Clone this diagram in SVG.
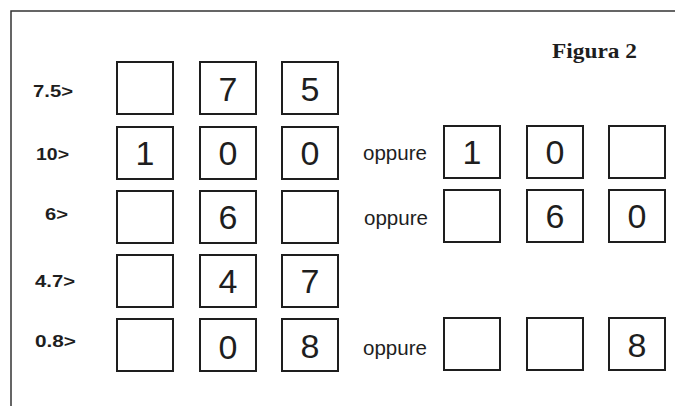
<svg xmlns="http://www.w3.org/2000/svg" width="675" height="406" viewBox="0 0 675 406">
<style>
.bx{fill:none;stroke:#1e1e1e;stroke-width:2}
.dg{font-family:"Liberation Sans",Arial,sans-serif;font-size:34px;fill:#1e1e1e;text-anchor:middle}
.lb{font-family:"Liberation Sans",Arial,sans-serif;font-size:17px;font-weight:bold;fill:#1e1e1e}
.op{font-family:"Liberation Sans",Arial,sans-serif;font-size:20px;fill:#1e1e1e}
.fig{font-family:"Liberation Serif","Times New Roman",serif;font-size:22px;font-weight:bold;fill:#1e1e1e}
.fr{fill:none;stroke:#333;stroke-width:1.5}
</style>
<rect width="675" height="406" fill="#ffffff"/>
<g id="frame">
<path class="fr" d="M11,406 V11 H675"/>
</g>
<g id="title"><text class="fig" x="552" y="58" textLength="85" lengthAdjust="spacingAndGlyphs">Figura 2</text></g>

<g id="row1">
<text class="lb" x="33" y="97" textLength="40" lengthAdjust="spacingAndGlyphs">7.5&gt;</text>
<rect class="bx" x="117" y="62" width="56" height="52"/>
<rect class="bx" x="200" y="62" width="56" height="52"/><text class="dg" x="228" y="101">7</text>
<rect class="bx" x="282" y="62" width="56" height="52"/><text class="dg" x="310" y="101">5</text>
</g>

<g id="row2">
<text class="lb" x="36" y="160" textLength="33" lengthAdjust="spacingAndGlyphs">10&gt;</text>
<rect class="bx" x="117" y="127" width="56" height="52"/><text class="dg" x="145" y="165">1</text>
<rect class="bx" x="200" y="127" width="56" height="52"/><text class="dg" x="228" y="165">0</text>
<rect class="bx" x="282" y="127" width="56" height="52"/><text class="dg" x="310" y="165">0</text>
<text class="op" x="363" y="160" textLength="64" lengthAdjust="spacingAndGlyphs">oppure</text>
<rect class="bx" x="444" y="126" width="56" height="52"/><text class="dg" x="472" y="164">1</text>
<rect class="bx" x="527" y="126" width="56" height="52"/><text class="dg" x="555" y="164">0</text>
<rect class="bx" x="609" y="126" width="56" height="52"/>
</g>

<g id="row3">
<text class="lb" x="45" y="220" textLength="23" lengthAdjust="spacingAndGlyphs">6&gt;</text>
<rect class="bx" x="117" y="191" width="56" height="52"/>
<rect class="bx" x="200" y="191" width="56" height="52"/><text class="dg" x="228" y="229">6</text>
<rect class="bx" x="282" y="191" width="56" height="52"/>
<text class="op" x="364" y="225" textLength="64" lengthAdjust="spacingAndGlyphs">oppure</text>
<rect class="bx" x="444" y="190" width="56" height="52"/>
<rect class="bx" x="527" y="190" width="56" height="52"/><text class="dg" x="555" y="228">6</text>
<rect class="bx" x="609" y="190" width="56" height="52"/><text class="dg" x="637" y="228">0</text>
</g>

<g id="row4">
<text class="lb" x="35" y="287" textLength="40" lengthAdjust="spacingAndGlyphs">4.7&gt;</text>
<rect class="bx" x="117" y="255" width="56" height="52"/>
<rect class="bx" x="200" y="255" width="56" height="52"/><text class="dg" x="228" y="293">4</text>
<rect class="bx" x="282" y="255" width="56" height="52"/><text class="dg" x="310" y="293">7</text>
</g>

<g id="row5">
<text class="lb" x="35" y="347" textLength="41" lengthAdjust="spacingAndGlyphs">0.8&gt;</text>
<rect class="bx" x="117" y="319" width="56" height="52"/>
<rect class="bx" x="200" y="319" width="56" height="52"/><text class="dg" x="228" y="359">0</text>
<rect class="bx" x="282" y="319" width="56" height="52"/><text class="dg" x="310" y="358">8</text>
<text class="op" x="363" y="355" textLength="64" lengthAdjust="spacingAndGlyphs">oppure</text>
<rect class="bx" x="444" y="318" width="56" height="52"/>
<rect class="bx" x="527" y="318" width="56" height="52"/>
<rect class="bx" x="609" y="318" width="56" height="52"/><text class="dg" x="637" y="357">8</text>
</g>
</svg>
